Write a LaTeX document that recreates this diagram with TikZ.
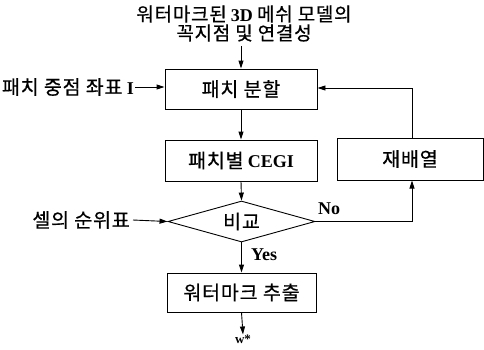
\documentclass[tikz,border=0pt]{standalone}
\usepackage{fontspec}
\setmainfont{Liberation Serif}
\newfontfamily\kr{Noto Sans CJK KR}[Scale=1.15,LetterSpace=4,FakeBold=0.6]
\newcommand{\latn}[1]{{\fontsize{18}{19}\selectfont\bfseries #1}}
\usetikzlibrary{arrows.meta,shapes.geometric}
\tikzset{
  box/.style={draw,line width=0.9pt,minimum width=152pt,minimum height=40pt,inner sep=0pt,font=\fontsize{17}{19}\selectfont},
  dia/.style={draw,diamond,aspect=3.6,line width=0.9pt,inner sep=0pt,minimum width=147pt,minimum height=41pt,font=\fontsize{17}{19}\selectfont},
  lbl/.style={inner sep=0pt,font=\fontsize{17}{19}\selectfont},
  yn/.style={inner sep=0pt,font=\fontsize{18}{19}\selectfont\bfseries},
  ttl/.style={inner sep=0pt,align=center,font=\fontsize{16.5}{19}\selectfont},
  arr/.style={line width=0.9pt,-{Triangle[length=8pt,width=5pt]}}
}
\begin{document}
\begin{tikzpicture}[x=1pt,y=1pt]
\useasboundingbox (0,0) rectangle (484,-349);
\node[ttl] (t) at (244,-23.5) {{\kr 워터마크된} \latn{3D} {\kr 메쉬 모델의}\\{\kr 꼭지점\ 및\ 연결성}};
\coordinate (tin) at (241,-46);
\node[box] (p1) at (241,-89) {\kr 패치 분할};
\node[box,minimum height=41pt] (p2) at (241,-160.5) {{\kr 패치별} \latn{CEGI}};
\node[box,minimum width=146pt,minimum height=42pt] (re) at (410,-159) {\kr 재배열};
\node[dia] (d) at (241.5,-221.5) {\kr 비교};
\node[box,minimum width=149pt,minimum height=39pt] (p3) at (241.5,-292.5) {\kr 워터마크 추출};
\node[lbl,anchor=east] (l1) at (134,-87) {{\kr 패치 중점 좌표} \latn{I}};
\node[lbl,anchor=east] (l2) at (130,-220) {\kr 셀의 순위표};
\node[yn] (no) at (329,-209) {No};
\node[yn] (yes) at (264,-255) {Yes};
\node[lbl,font=\fontsize{13}{15}\selectfont\bfseries] (w) at (243,-339) {w*};
\draw[arr] (tin) -- (p1.north);
\draw[arr] (l1.east) ++(1,0) -- (p1.west |- l1.east);
\draw[arr] (p1.south) -- (p2.north);
\draw[arr] (p2.south) -- (d.north);
\draw[arr] (l2.east) ++(3,0) -- (d.west);
\draw[arr] (d.south) -- (p3.north);
\draw[arr] (p3.south) -- (w.north);
\coordinate (c1) at (412,-221.5);
\coordinate (c2) at (412,-88);
\draw[arr] (d.east) -- (c1) -- (412,-180.5);
\draw[arr] (412,-138) -- (c2) -- (p1.east |- c2);
\end{tikzpicture}
\end{document}
